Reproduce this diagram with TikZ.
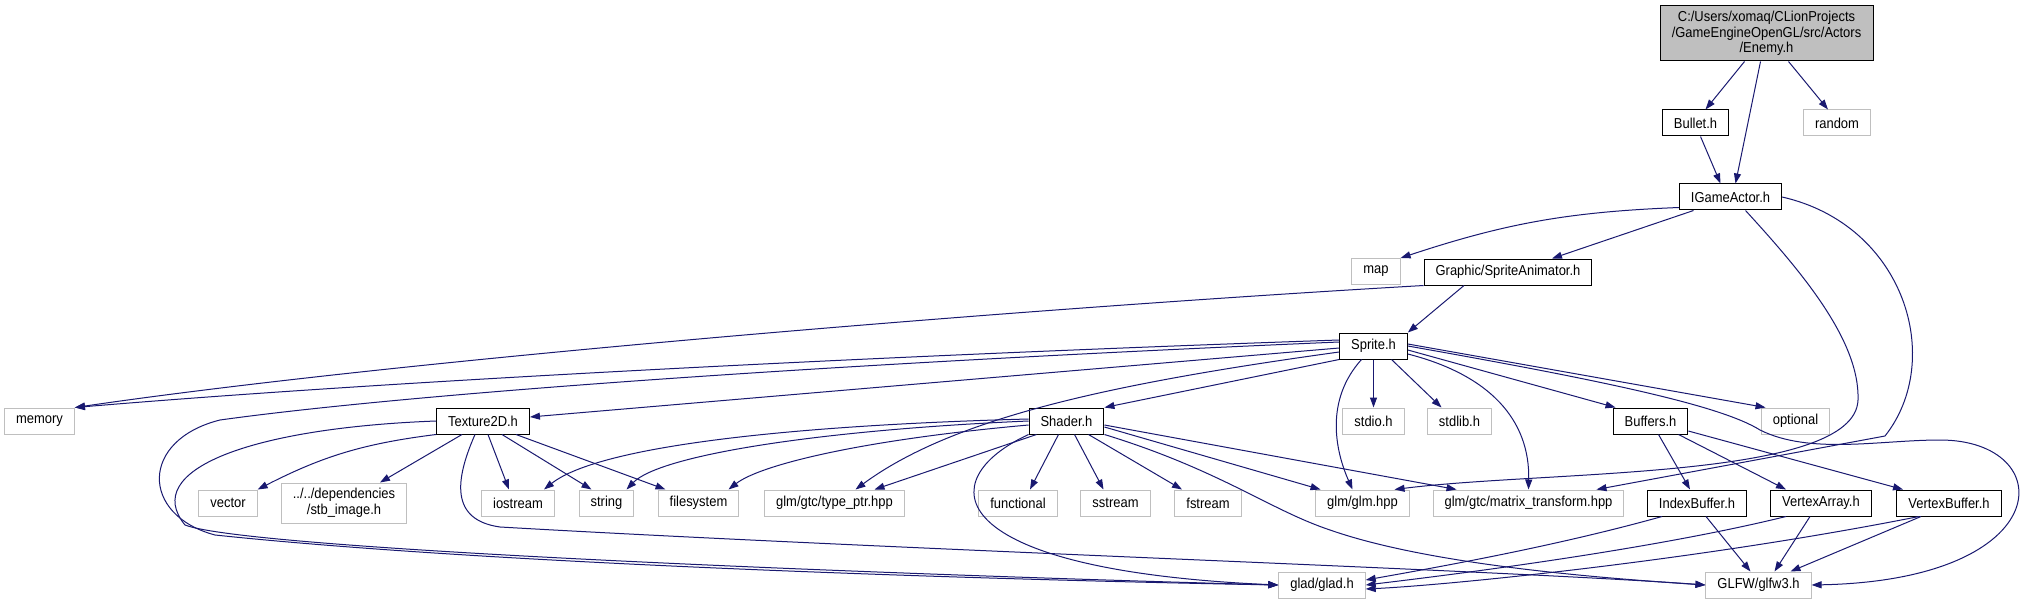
\documentclass[tikz,border=0pt]{standalone}
\usepackage{fontspec}
\setmainfont{Liberation Sans}[FakeStretch=0.9]
\usetikzlibrary{arrows.meta}
\definecolor{navyline}{HTML}{191970}
\definecolor{sysgray}{HTML}{BFBFBF}
\begin{document}
\begin{tikzpicture}[x=1pt,y=-1pt,
  hdr/.style={draw=black,fill=white,line width=1pt,minimum height=26pt,inner xsep=11.5pt,inner ysep=2pt,font=\fontsize{14.4}{15.5}\selectfont,align=center},
  sys/.style={hdr,draw=sysgray},
  incl/.style={draw=navyline,line width=1pt,-{Triangle[length=10pt,width=7pt]}}]
% Background
\fill[white] (0,0) rectangle (2031,604);
\useasboundingbox (0,0) rectangle (2031,604);
% Header boxes
\node[hdr,fill=sysgray,minimum width=213pt,minimum height=55pt] (enemy) at (1766.5,33.5) {C:/Users/xomaq/CLionProjects\\/GameEngineOpenGL/src/Actors\\/Enemy.h};
\node[hdr] (bullet) at (1695.5,123) {Bullet.h};
\node[sys] (random) at (1837,123) {random};
\node[hdr] (igame) at (1730.5,197) {IGameActor.h};
\node[sys] (map) at (1376,271.5) {map};
\node[hdr] (spranim) at (1508,272) {Graphic/SpriteAnimator.h};
\node[hdr] (sprite) at (1373.5,346) {Sprite.h};
% Row under Sprite.h
\node[sys] (memory) at (39.5,421) {memory};
\node[hdr] (texture) at (483,421) {Texture2D.h};
\node[hdr] (shader) at (1066.5,421) {Shader.h};
\node[sys] (stdio) at (1373.5,421) {stdio.h};
\node[sys] (stdlib) at (1459.5,421) {stdlib.h};
\node[hdr] (buffers) at (1650.5,421) {Buffers.h};
\node[sys] (optional) at (1795.5,421) {optional};
% Leaf row
\node[sys] (vector) at (228,503) {vector};
\node[sys,minimum height=40pt] (stb) at (344,503) {../../dependencies\\/stb\_image.h};
\node[sys] (iostream) at (518,503) {iostream};
\node[sys] (string) at (606.5,503) {string};
\node[sys] (filesystem) at (698.5,503) {filesystem};
\node[sys] (typeptr) at (834.5,503) {glm/gtc/type\_ptr.hpp};
\node[sys] (functional) at (1018,503) {functional};
\node[sys] (sstream) at (1115.5,503) {sstream};
\node[sys] (fstream) at (1208,503) {fstream};
\node[sys] (glm) at (1362.5,503) {glm/glm.hpp};
\node[sys] (matrix) at (1528.5,503) {glm/gtc/matrix\_transform.hpp};
\node[hdr] (indexbuf) at (1697,503) {IndexBuffer.h};
\node[hdr] (vertexarray) at (1821,503) {VertexArray.h};
\node[hdr] (vertexbuf) at (1949,503) {VertexBuffer.h};
\node[sys] (glad) at (1322,585) {glad/glad.h};
\node[sys] (glfw) at (1758.5,585) {GLFW/glfw3.h};
% Enemy.h and Bullet.h
\draw[incl] ([xshift=-22pt]enemy.south) -- ([xshift=10pt]bullet.north);
\draw[incl] ([xshift=-6pt]enemy.south) -- ([xshift=5pt]igame.north);
\draw[incl] ([xshift=22pt]enemy.south) -- ([xshift=-9pt]random.north);
\draw[incl] ([xshift=5pt]bullet.south) -- ([xshift=-10pt]igame.north);
% IGameActor.h
\draw[incl] ([yshift=3pt]igame.south west) to[bend right=8] (map.north east);
\draw[incl] ([xshift=-37pt]igame.south) -- ([xshift=44pt]spranim.north);
\draw[incl] ([xshift=15pt]igame.south) .. controls (1800,270) and (1860,340) .. (1858,400)
  .. controls (1855,480) and (1550,470) .. ([xshift=32pt]glm.north);
\draw[incl] (igame.east) .. controls (1905,225) and (1945,360) .. (1885,436) -- ([xshift=68pt]matrix.north);
% Graphic/SpriteAnimator.h
\draw[incl] (spranim.south west) .. controls (1000,310) and (400,360) .. (memory.north east);
\draw[incl] (spranim.south) ++(-44pt,0) -- (sprite.north east);
% Sprite.h
\draw[incl] ([yshift=6pt]sprite.west) .. controls (900,355) and (400,380) .. (memory.north east);
\draw[incl] ([yshift=-2pt]sprite.west) -- ([yshift=4pt]texture.east);
\draw[incl] ([yshift=4pt]sprite.west) .. controls (800,365) and (400,395) .. (220,420)
  .. controls (140,440) and (140,515) .. (215,535) .. controls (500,565) and (1000,580) .. (glad.west);
\draw[incl] ([yshift=-6pt]sprite.west) .. controls (1100,385) and (950,420) .. ([xshift=21pt]typeptr.north);
\draw[incl] (sprite.south west) -- (shader.north east);
\draw[incl] (sprite.south) -- (stdio.north);
\draw[incl] ([xshift=-12pt]sprite.south) .. controls (1325,400) and (1335,450) .. ([xshift=-10pt]glm.north);
\draw[incl] ([xshift=18pt]sprite.south) -- ([xshift=-18pt]stdlib.north);
\draw[incl] ([yshift=-8pt]sprite.east) .. controls (1490,375) and (1530,420) .. (matrix.north);
\draw[incl] ([yshift=-4pt]sprite.east) -- ([xshift=-35pt]buffers.north);
\draw[incl] ([yshift=2pt]sprite.east) -- ([xshift=-30pt]optional.north);
\draw[incl] (sprite.east) .. controls (1600,380) and (1720,405) .. (1760,430)
  .. controls (1810,455) and (1880,440) .. (1940,440) .. controls (2060,440) and (2060,580) .. (glfw.east);
% Texture2D.h
\draw[incl] (texture.south west) to[bend right=10] (vector.north east);
\draw[incl] ([xshift=-21pt]texture.south) -- ([xshift=36pt]stb.north);
\draw[incl] ([xshift=5pt]texture.south) -- ([xshift=-9pt]iostream.north);
\draw[incl] ([xshift=19pt]texture.south) -- ([xshift=-15pt]string.north);
\draw[incl] ([xshift=33pt]texture.south) -- ([xshift=-33pt]filesystem.north);
\draw[incl] (texture.west) .. controls (250,428) and (140,470) .. (185,525)
  .. controls (250,550) and (900,575) .. (glad.west);
\draw[incl] ([xshift=-8pt]texture.south) .. controls (455,480) and (450,520) .. (500,527)
  .. controls (900,550) and (1500,570) .. (glfw.west);
% Shader.h
\draw[incl] ([yshift=2pt]shader.west) .. controls (800,425) and (600,445) .. ([xshift=26pt]iostream.north);
\draw[incl] (shader.west) .. controls (820,430) and (660,455) .. ([xshift=20pt]string.north);
\draw[incl] ([yshift=-4pt]shader.west) .. controls (860,440) and (760,465) .. ([xshift=30pt]filesystem.north);
\draw[incl] ([xshift=-30pt]shader.south) -- ([xshift=40pt]typeptr.north);
\draw[incl] ([xshift=-8pt]shader.south) -- ([xshift=12pt]functional.north);
\draw[incl] ([xshift=8pt]shader.south) -- ([xshift=-12pt]sstream.north);
\draw[incl] ([xshift=22pt]shader.south) -- ([xshift=-26pt]fstream.north);
\draw[incl] ([yshift=-6pt]shader.east) -- ([xshift=-42pt]glm.north);
\draw[incl] ([yshift=-4pt]shader.east) -- ([xshift=-72pt]matrix.north);
\draw[incl] (shader.south west) .. controls (930,480) and (940,570) .. (glad.west);
\draw[incl] (shader.south east) .. controls (1220,470) and (1270,510) .. (1330,530)
  .. controls (1430,565) and (1600,578) .. (glfw.west);
% Buffers.h
\draw[incl] ([xshift=8pt]buffers.south) -- ([xshift=-7pt]indexbuf.north);
\draw[incl] ([xshift=28pt]buffers.south) -- ([xshift=-35pt]vertexarray.north);
\draw[incl] ([yshift=-10pt]buffers.east) -- ([xshift=-46pt]vertexbuf.north);
% Buffer classes
\draw[incl] ([xshift=-35pt]indexbuf.south) .. controls (1560,545) and (1450,565) .. ([yshift=5pt]glad.east);
\draw[incl] ([xshift=9pt]indexbuf.south) -- ([xshift=-8pt]glfw.north);
\draw[incl] ([xshift=-35pt]vertexarray.south) .. controls (1650,550) and (1450,575) .. (glad.east);
\draw[incl] ([xshift=-11pt]vertexarray.south) -- ([xshift=16pt]glfw.north);
\draw[incl] ([xshift=-30pt]vertexbuf.south) .. controls (1700,560) and (1450,585) .. ([yshift=-4pt]glad.east);
\draw[incl] ([xshift=-28pt]vertexbuf.south) -- ([xshift=32pt]glfw.north);
\end{tikzpicture}
\end{document}
